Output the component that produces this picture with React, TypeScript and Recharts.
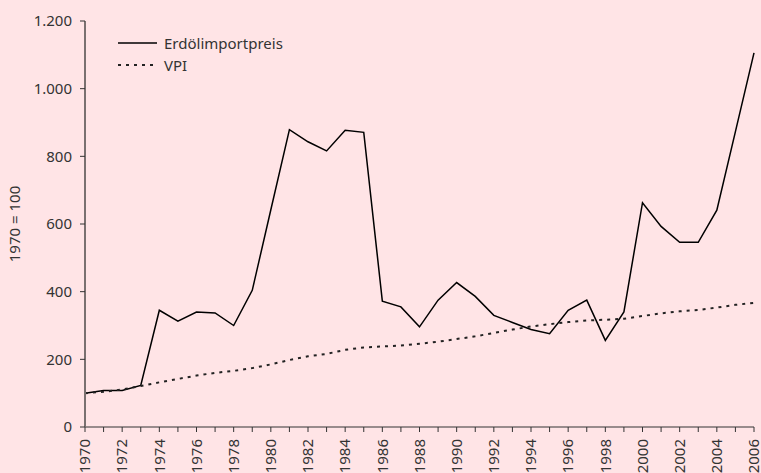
import React from 'react';
import { LineChart, Line, XAxis, YAxis } from 'recharts';

const years = [
  1970, 1971, 1972, 1973, 1974, 1975, 1976, 1977, 1978, 1979,
  1980, 1981, 1982, 1983, 1984, 1985, 1986, 1987, 1988, 1989,
  1990, 1991, 1992, 1993, 1994, 1995, 1996, 1997, 1998, 1999,
  2000, 2001, 2002, 2003, 2004, 2005, 2006,
];

const oilPrice = [
  100, 108, 108, 123, 345, 313, 340, 337, 300, 404,
  642, 879, 843, 816, 877, 871, 372, 355, 296, 375,
  427, 386, 330, 309, 288, 276, 345, 375, 256, 340,
  663, 593, 546, 546, 641, 873, 1106,
];

const cpi = [
  100, 104, 111, 121, 132, 142, 152, 160, 166, 174,
  185, 198, 209, 216, 228, 235, 238, 241, 246, 252,
  260, 268, 278, 288, 297, 304, 310, 315, 317, 320,
  328, 336, 342, 346, 353, 361, 367,
];

const yTicks = [0, 200, 400, 600, 800, 1000, 1200];

const series = [
  { key: 'oil', name: 'Erdölimportpreis', color: '#000000', width: 1.5, dash: undefined as string | undefined },
  { key: 'vpi', name: 'VPI', color: '#222222', width: 2, dash: '3 5' },
];

const data = years.map((year, i) => ({
  year,
  oil: oilPrice[i],
  vpi: cpi[i],
}));

const FONT = '"Noto Sans", sans-serif';
const TEXT = '#333333';

// 1.200 statt 1,200
const fmtDe = (v: number) =>
  v >= 1000 ? `${Math.floor(v / 1000)}.${String(v % 1000).padStart(3, '0')}` : String(v);

const YearTick = (props: any) => {
  const { x, y, payload } = props;
  if (payload.value % 2 !== 0) return null;
  return (
    <g transform={`translate(${x},${y + 5}) rotate(-90)`}>
      <text textAnchor="end" dy="0.35em" fill={TEXT} fontSize={15} fontFamily={FONT}>
        {payload.value}
      </text>
    </g>
  );
};

// Legende als Overlay, damit sie keinen Platz vom Plotbereich nimmt
const LegendBox = () => (
  <div style={{ position: 'absolute', left: 118, top: 32, fontFamily: FONT, fontSize: 15, color: TEXT }}>
    {series.map((s) => (
      <div key={s.key} style={{ display: 'flex', alignItems: 'center', height: 22 }}>
        <svg width={40} height={6} style={{ marginRight: 6 }}>
          <line x1={0} y1={3} x2={39} y2={3} stroke={s.color} strokeWidth={s.width} strokeDasharray={s.dash} />
        </svg>
        <span>{s.name}</span>
      </div>
    ))}
  </div>
);

export default function App() {
  return (
    <div style={{ position: 'absolute', left: 0, top: 0, width: 761, height: 473, background: '#FFE4E6' }}>
      <LineChart width={761} height={473} data={data} margin={{ top: 21, right: 7, bottom: 0, left: 0 }}>
        <XAxis
          dataKey="year"
          type="number"
          domain={[1970, 2006]}
          ticks={years}
          interval={0}
          height={46}
          tick={<YearTick />}
          tickSize={5}
          axisLine={{ stroke: '#333333', strokeWidth: 1 }}
          tickLine={{ stroke: '#333333' }}
        />
        <YAxis
          domain={[0, 1200]}
          ticks={yTicks}
          width={85}
          tickSize={5}
          tickMargin={8}
          tickFormatter={fmtDe}
          tick={{ fill: TEXT, fontSize: 15, fontFamily: FONT }}
          axisLine={{ stroke: '#7a7070', strokeWidth: 2 }}
          tickLine={{ stroke: '#333333' }}
          label={{
            value: '1970 = 100',
            angle: -90,
            position: 'insideLeft',
            offset: 15,
            style: { fill: TEXT, fontSize: 15, fontFamily: FONT, textAnchor: 'middle' },
          }}
        />
        {series.map((s) => (
          <Line
            key={s.key}
            type="linear"
            dataKey={s.key}
            name={s.name}
            stroke={s.color}
            strokeWidth={s.width}
            strokeDasharray={s.dash}
            dot={false}
            isAnimationActive={false}
          />
        ))}
      </LineChart>
      <LegendBox />
    </div>
  );
}
